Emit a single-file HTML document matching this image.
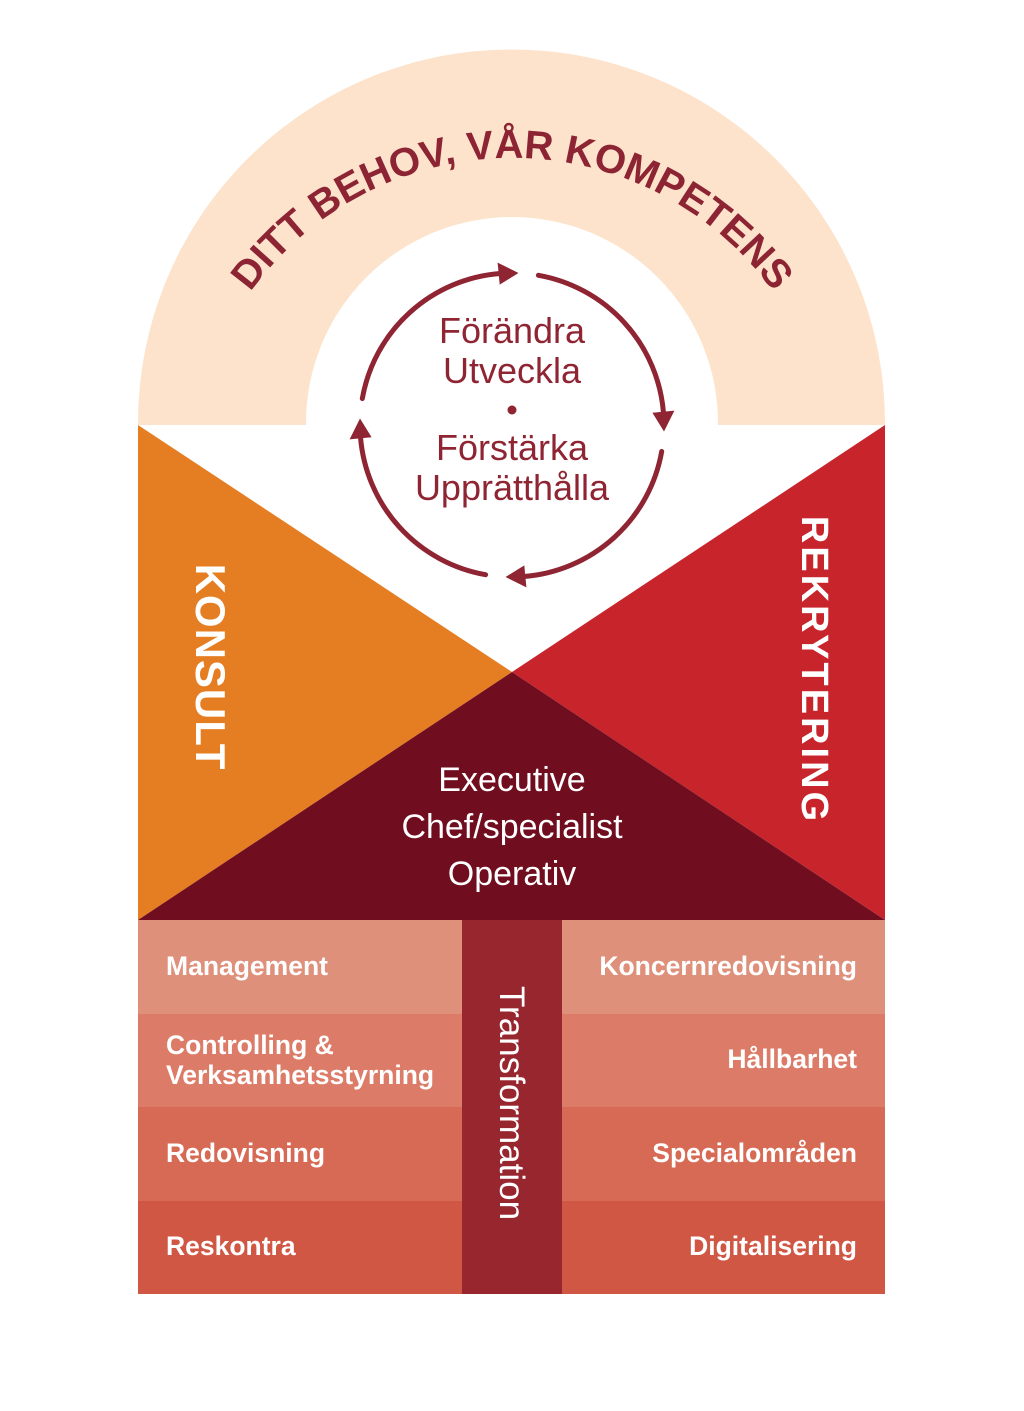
<!DOCTYPE html>
<html><head><meta charset="utf-8"><style>
html,body{margin:0;padding:0;background:#fff;}
svg{display:block;}
text{font-family:"Liberation Sans",sans-serif;}
</style></head><body>
<svg width="1024" height="1411" viewBox="0 0 1024 1411" xmlns="http://www.w3.org/2000/svg">
<defs>
<path id="archp" d="M 248.2 295.3 A 322 322 0 0 1 775.8 295.3" />
<g id="arc1">
<path d="M 362.3 398.6 A 152 152 0 0 1 500 273.5" fill="none" stroke="#8f2432" stroke-width="5" stroke-linecap="round"/>
<polygon points="518.5,273 497.6,262.6 499.7,284.6" fill="#8f2432"/>
</g>
</defs>
<path d="M138 425 L138 423 A373.5 373.5 0 0 1 885 423 L885 425 Z" fill="#fde3cb"/>
<path d="M306 426 L306 423 A206 206 0 0 1 718 423 L718 426 Z" fill="#fff"/>
<polygon points="138,425 512,672 138,920" fill="#e57e22"/>
<polygon points="885,425 512,672 885,920" fill="#c8242c"/>
<polygon points="512,672 138,920 885,920" fill="#700e20"/>
<text font-size="40" font-weight="bold" fill="#8c2433"><textPath href="#archp" startOffset="50%" text-anchor="middle">DITT BEHOV, VÅR KOMPETENS</textPath></text>
<use href="#arc1"/>
<use href="#arc1" transform="rotate(90 512 425)"/>
<use href="#arc1" transform="rotate(180 512 425)"/>
<use href="#arc1" transform="rotate(270 512 425)"/>
<g fill="#8f2432" font-size="36" text-anchor="middle">
<text x="512" y="343">Förändra</text>
<text x="512" y="383">Utveckla</text>
<circle cx="512" cy="410" r="4.5"/>
<text x="512" y="460">Förstärka</text>
<text x="512" y="500">Upprätthålla</text>
</g>
<text transform="translate(196,667) rotate(90)" font-size="42" fill="#fff" text-anchor="middle" font-weight="bold" letter-spacing="1">KONSULT</text>
<text transform="translate(802,670) rotate(90)" font-size="38" fill="#fff" text-anchor="middle" font-weight="bold" letter-spacing="3">REKRYTERING</text>
<g fill="#fff" font-size="34" text-anchor="middle">
<text x="512" y="791">Executive</text>
<text x="512" y="838">Chef/specialist</text>
<text x="512" y="885">Operativ</text>
</g>
<rect x="138" y="920" width="747" height="94" fill="#df907b"/>
<rect x="138" y="1014" width="747" height="94" fill="#dc7c68"/>
<rect x="138" y="1107" width="747" height="94" fill="#d76a55"/>
<rect x="138" y="1201" width="747" height="93" fill="#d15745"/>
<rect x="462" y="920" width="100" height="374" fill="#97262f"/>
<g fill="#fff" font-size="26.5" font-weight="bold">
<text x="166" y="975">Management</text>
<text x="166" y="1054">Controlling &amp;</text>
<text x="166" y="1084">Verksamhetsstyrning</text>
<text x="166" y="1162">Redovisning</text>
<text x="166" y="1255">Reskontra</text>
<g text-anchor="end">
<text x="857" y="975">Koncernredovisning</text>
<text x="857" y="1068">Hållbarhet</text>
<text x="857" y="1162">Specialområden</text>
<text x="857" y="1255">Digitalisering</text>
</g>
</g>
<text transform="translate(500,1103) rotate(90)" font-size="35" fill="#fff" text-anchor="middle">Transformation</text>
</svg>
</body></html>
